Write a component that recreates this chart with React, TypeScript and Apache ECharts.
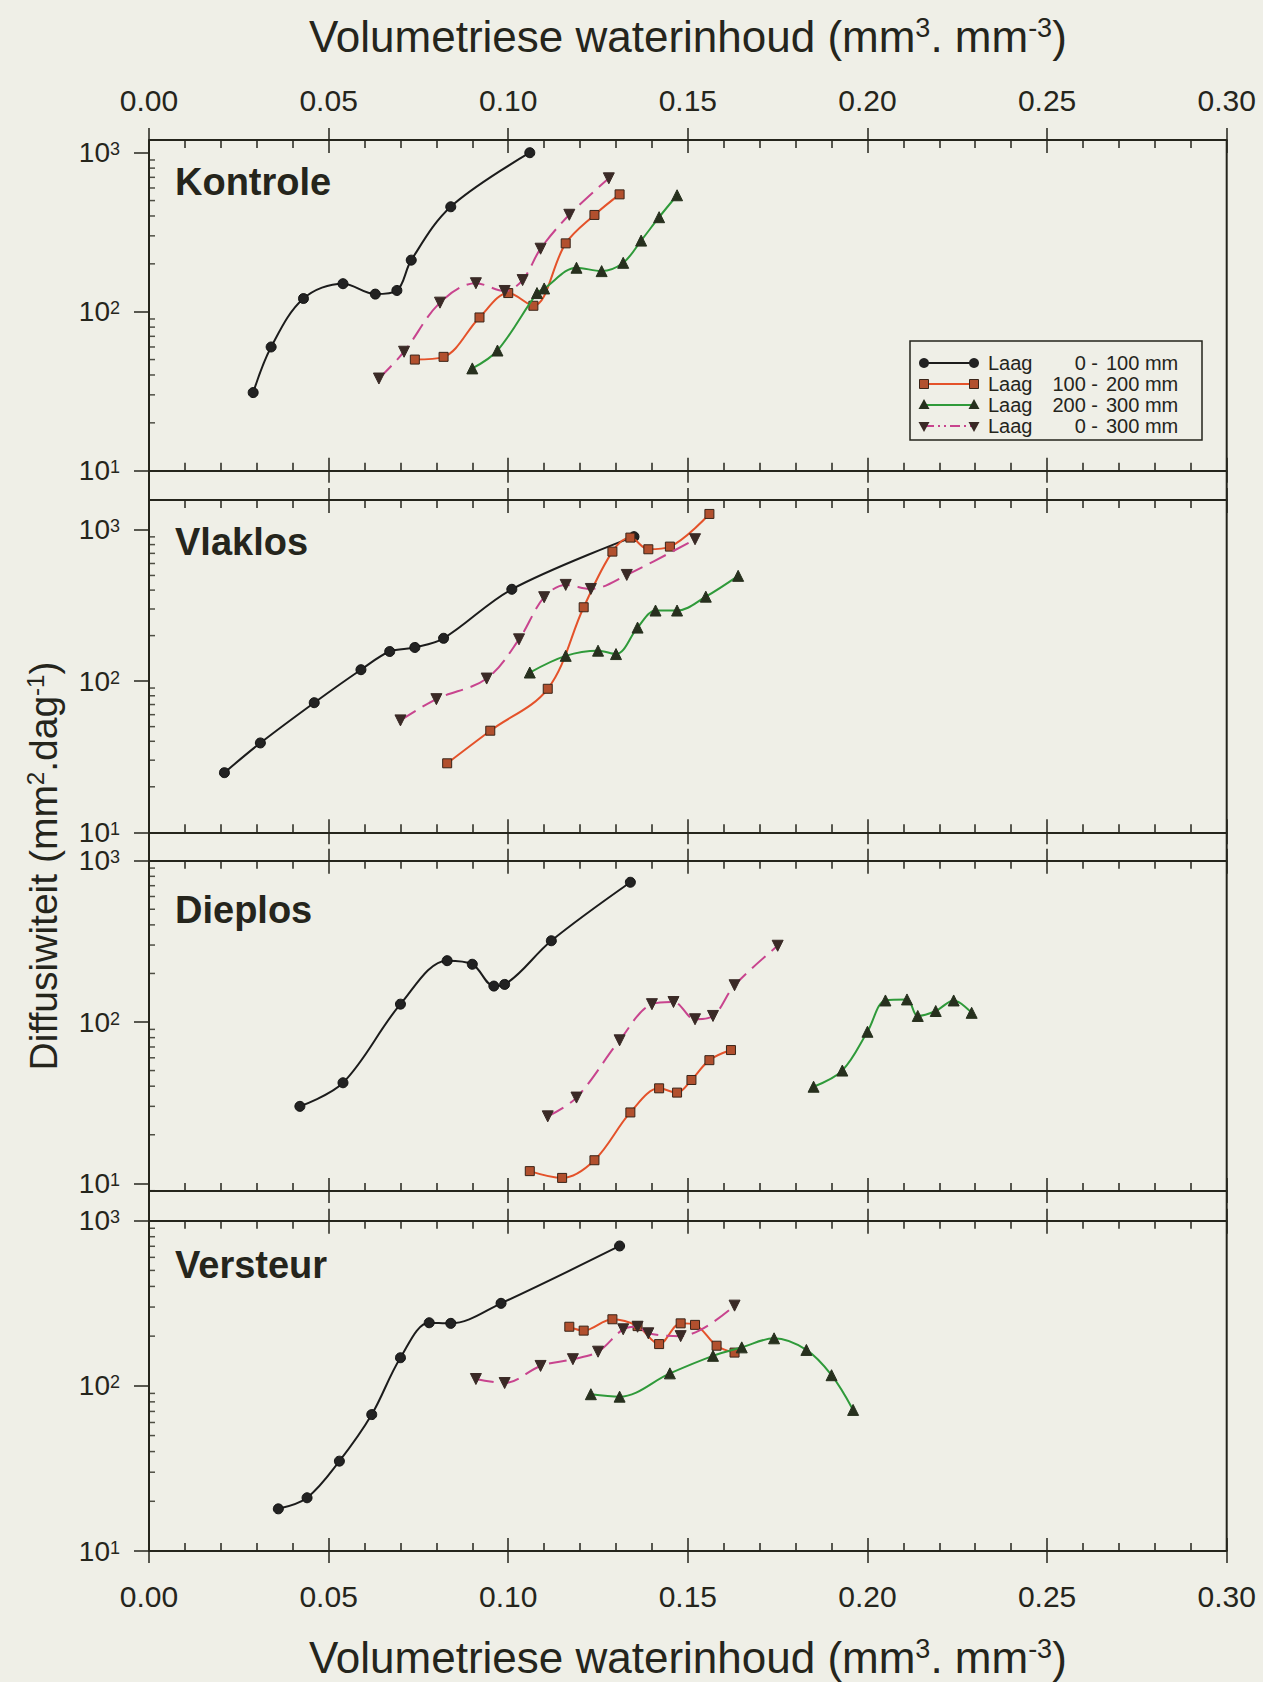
import React, { useEffect, useRef } from 'react';
import * as echarts from 'echarts';

// ---------- data (x: volumetric water content, y: diffusivity) ----------
const panelNames = ['Kontrole', 'Vlaklos', 'Dieplos', 'Versteur'];
const layerPrefix = 'Laag';
const layerFrom = ['0 -', '100 -', '200 -', '0 -'];
const layerTo = ['100 mm', '200 mm', '300 mm', '300 mm'];

const kontrole0_100 = [[0.029, 31], [0.034, 60], [0.043, 121], [0.054, 150], [0.063, 129], [0.069, 136], [0.073, 211], [0.084, 457], [0.106, 1000]];
const kontrole100_200 = [[0.074, 50], [0.082, 52], [0.092, 92], [0.100, 131], [0.107, 109], [0.116, 269], [0.124, 406], [0.131, 547]];
const kontrole200_300 = [[0.090, 44], [0.097, 57], [0.108, 131], [0.110, 140], [0.119, 189], [0.126, 180], [0.132, 203], [0.137, 280], [0.142, 393], [0.147, 540]];
const kontrole0_300 = [[0.064, 38], [0.071, 56], [0.081, 114], [0.091, 151], [0.099, 135], [0.104, 158], [0.109, 249], [0.117, 407], [0.128, 690]];

const vlaklos0_100 = [[0.021, 24.8], [0.031, 39], [0.046, 72], [0.059, 119], [0.067, 157], [0.074, 167], [0.082, 192], [0.101, 405], [0.135, 903]];
const vlaklos100_200 = [[0.083, 28.6], [0.095, 47], [0.111, 89], [0.121, 308], [0.129, 719], [0.134, 890], [0.139, 745], [0.145, 776], [0.156, 1276]];
const vlaklos200_300 = [[0.106, 114], [0.116, 147], [0.125, 159], [0.130, 151], [0.136, 226], [0.141, 293], [0.147, 293], [0.155, 362], [0.164, 497]];
const vlaklos0_300 = [[0.070, 55], [0.080, 76], [0.094, 104], [0.103, 189], [0.110, 359], [0.116, 433], [0.123, 407], [0.133, 504], [0.152, 868]];

const dieplos0_100 = [[0.042, 30], [0.054, 42], [0.070, 129], [0.083, 240], [0.090, 228], [0.096, 167], [0.099, 171], [0.112, 319], [0.134, 735]];
const dieplos100_200 = [[0.106, 11.9], [0.115, 10.8], [0.124, 13.9], [0.134, 27.5], [0.142, 38.8], [0.147, 36.5], [0.151, 43.7], [0.156, 58], [0.162, 67]];
const dieplos200_300 = [[0.185, 39.7], [0.193, 50], [0.200, 87], [0.205, 136], [0.211, 138], [0.214, 109], [0.219, 117], [0.224, 136], [0.229, 114]];
const dieplos0_300 = [[0.111, 26], [0.119, 34], [0.131, 77], [0.140, 129], [0.146, 133], [0.152, 104], [0.157, 109], [0.163, 169], [0.175, 297]];

const versteur0_100 = [[0.036, 18], [0.044, 21], [0.053, 35], [0.062, 67], [0.070, 148], [0.078, 241], [0.084, 239], [0.098, 316], [0.131, 703]];
const versteur100_200 = [[0.117, 228], [0.121, 216], [0.129, 253], [0.136, 230], [0.142, 179], [0.148, 239], [0.152, 234], [0.158, 175], [0.163, 159]];
const versteur200_300 = [[0.123, 89], [0.131, 86], [0.145, 119], [0.157, 152], [0.165, 171], [0.174, 194], [0.183, 165], [0.190, 116], [0.196, 71.5]];
const versteur0_300 = [[0.091, 110], [0.099, 104], [0.109, 132], [0.118, 145], [0.125, 161], [0.132, 220], [0.136, 228], [0.139, 208], [0.148, 200], [0.163, 306]];

const panelData = [
  [kontrole0_100, kontrole100_200, kontrole200_300, kontrole0_300],
  [vlaklos0_100, vlaklos100_200, vlaklos200_300, vlaklos0_300],
  [dieplos0_100, dieplos100_200, dieplos200_300, dieplos0_300],
  [versteur0_100, versteur100_200, versteur200_300, versteur0_300],
];

const yMin = [10, 10, 8.96, 10];
const yMax = [1202, 1578, 1000, 1000];
const yMajorTicks = [10, 100, 1000];
const yMinorTicks = [2, 3, 4, 5, 6, 7, 8, 9, 20, 30, 40, 50, 60, 70, 80, 90, 200, 300, 400, 500, 600, 700, 800, 900];

// ---------- layout / style ----------
const W = 1263;
const H = 1682;
const LEFT = 149;
const RIGHT = 1226.7;
const panelTop = [140, 500, 860.7, 1220.7];
const panelBottom = [470.7, 832.3, 1191, 1551];
const labelY = [182, 542, 910, 1265];

const INK = '#25251c';
const BG = '#efefe7';
const NARROW = "'Liberation Sans Narrow', 'Arial Narrow', 'Liberation Sans', Arial, sans-serif";
const SANS = "'Liberation Sans', Arial, sans-serif";

const seriesStyle = [
  { color: '#1c1c1c', symbol: 'circle', size: 10, rotate: 0, fill: '#222', border: '#111', dash: 'solid' as any },
  { color: '#e4522a', symbol: 'rect', size: 9, rotate: 0, fill: '#b2502e', border: '#3a2418', dash: 'solid' as any },
  { color: '#2f9a3a', symbol: 'triangle', size: 11, rotate: 0, fill: '#27301e', border: '#27301e', dash: 'solid' as any },
  { color: '#c8448e', symbol: 'triangle', size: 11, rotate: 180, fill: '#3a2a26', border: '#3a2a26', dash: [18, 8] as any },
];

function App() {
  const ref = useRef<HTMLDivElement>(null);

  useEffect(() => {
    document.body.style.margin = '0';
    document.body.style.background = BG;
    const chart = echarts.init(ref.current!, null, { renderer: 'svg' });

    const grids: any[] = [];
    const xAxes: any[] = [];
    const yAxes: any[] = [];
    const series: any[] = [];

    const titleRich = {
      a: { fontSize: 44, fontFamily: SANS, color: INK },
      s: { fontSize: 27, fontFamily: SANS, color: INK, verticalAlign: 'top' },
    };
    const titleText = '{a|Volumetriese waterinhoud (mm}{s|3}{a|. mm}{s|-3}{a|)}';

    for (let p = 0; p < 4; p++) {
      grids.push({ left: LEFT, top: panelTop[p], width: RIGHT - LEFT, height: panelBottom[p] - panelTop[p], containLabel: false });
      const base = {
        gridIndex: p, type: 'value', min: 0, max: 0.3, interval: 0.05,
        splitLine: { show: false },
      };
      const tickLine = { color: INK, width: 1.5 };
      // bottom, inside ticks + frame line
      xAxes.push({
        ...base, position: 'bottom',
        axisLine: { show: true, onZero: false, lineStyle: { color: INK, width: 2 } },
        axisTick: { show: true, inside: true, length: 13, lineStyle: tickLine },
        minorTick: { show: true, splitNumber: 5, length: 8, lineStyle: tickLine },
        axisLabel: {
          show: p === 3, margin: 30, fontSize: 30, fontFamily: NARROW, color: INK,
          formatter: (v: number) => v.toFixed(2),
        },
        name: p === 3 ? titleText : '', nameLocation: 'middle', nameGap: 84,
        nameTextStyle: { rich: titleRich },
      });
      // bottom, outside major ticks
      xAxes.push({
        ...base, position: 'bottom',
        axisLine: { show: false, onZero: false },
        axisTick: { show: true, inside: false, length: 12, lineStyle: tickLine },
        axisLabel: { show: false },
      });
      // top, inside ticks + frame line
      xAxes.push({
        ...base, position: 'top',
        axisLine: { show: true, onZero: false, lineStyle: { color: INK, width: 2 } },
        axisTick: { show: true, inside: true, length: 13, lineStyle: tickLine },
        minorTick: { show: true, splitNumber: 5, length: 8, lineStyle: tickLine },
        axisLabel: {
          show: p === 0, margin: 25, fontSize: 30, fontFamily: NARROW, color: INK,
          formatter: (v: number) => v.toFixed(2),
        },
        name: p === 0 ? titleText : '', nameLocation: 'middle', nameGap: 82,
        nameTextStyle: { rich: titleRich },
      });
      // top, outside major ticks
      xAxes.push({
        ...base, position: 'top',
        axisLine: { show: false, onZero: false },
        axisTick: { show: true, inside: false, length: 12, lineStyle: tickLine },
        axisLabel: { show: false },
      });

      yAxes.push({
        gridIndex: p, type: 'log', logBase: 10, min: yMin[p], max: yMax[p],
        axisLine: { show: false, onZero: false },
        axisTick: { show: true, inside: false, length: 15, lineStyle: tickLine, customValues: yMajorTicks },
        minorTick: { show: false },
        splitLine: { show: false },
        axisLabel: {
          show: true, margin: 29, customValues: yMajorTicks,
          formatter: (v: number) => {
            const e = Math.log10(v);
            if (Math.abs(e - Math.round(e)) > 1e-6) return '';
            return '{b|10}{s|' + Math.round(e) + '}';
          },
          rich: {
            b: { fontSize: 28, lineHeight: 25, fontFamily: SANS, color: INK },
            s: { fontSize: 18, lineHeight: 16, fontFamily: SANS, color: INK, verticalAlign: 'top' },
          },
        },
      });

      const data = panelData[p];
      for (let s = 0; s < 4; s++) {
        const st = seriesStyle[s];
        series.push({
          type: 'line', name: layerFrom[s] + ' ' + layerTo[s],
          xAxisIndex: p * 4, yAxisIndex: p,
          data: data[s], smooth: 0.35,
          symbol: st.symbol, symbolSize: st.size, symbolRotate: st.rotate,
          showAllSymbol: true,
          lineStyle: { color: st.color, width: 2, type: st.dash },
          itemStyle: { color: st.fill, borderColor: st.border, borderWidth: 1 },
          clip: false, z: 3 + s,
        });
      }
      // minor log ticks on the left axis (drawn at x = 0)
      series.push({
        type: 'scatter', xAxisIndex: p * 4, yAxisIndex: p,
        data: yMinorTicks.filter((v) => v >= yMin[p] && v <= yMax[p]).map((v) => [0, v]),
        symbol: 'rect', symbolSize: [6, 1.5], symbolOffset: [3, 0],
        itemStyle: { color: INK }, silent: true, clip: false, z: 2,
      });
    }

    const graphic: any[] = [
      { type: 'line', shape: { x1: LEFT, y1: panelTop[0], x2: LEFT, y2: panelBottom[3] }, style: { stroke: INK, lineWidth: 2 }, z: 10 },
      { type: 'line', shape: { x1: RIGHT, y1: panelTop[0], x2: RIGHT, y2: panelBottom[3] }, style: { stroke: INK, lineWidth: 2 }, z: 10 },
      {
        type: 'text', x: 43, y: 866, rotation: Math.PI / 2,
        style: {
          text: '{a|Diffusiwiteit (mm}{s|2}{a|.dag}{s|-1}{a|)}',
          rich: {
            a: { fontSize: 39, fontFamily: SANS, fill: INK },
            s: { fontSize: 24, fontFamily: SANS, fill: INK, verticalAlign: 'top' },
          },
          align: 'center', verticalAlign: 'middle', fill: INK,
        },
      },
    ];
    for (let p = 0; p < 4; p++) {
      graphic.push({
        type: 'text', x: 175, y: labelY[p],
        style: { text: panelNames[p], fontSize: 38, fontWeight: 'bold', fontFamily: SANS, fill: INK, align: 'left', verticalAlign: 'middle' },
      });
    }
    // legend box
    const lgX = 910, lgY = 341, lgW = 292, lgH = 99;
    const rowY = [363, 384, 405, 426];
    graphic.push({ type: 'rect', shape: { x: lgX, y: lgY, width: lgW, height: lgH }, style: { stroke: INK, lineWidth: 1.5, fill: BG }, z: 20 });
    for (let s = 0; s < 4; s++) {
      const st = seriesStyle[s];
      const y = rowY[s];
      graphic.push({
        type: 'line', shape: { x1: 924, y1: y, x2: 974, y2: y },
        style: { stroke: st.color, lineWidth: 2, lineDash: s === 3 ? [10, 4, 2, 4, 2, 4] : null }, z: 21,
      });
      for (const cx of [924, 974]) {
        let el: any;
        if (s === 0) el = { type: 'circle', shape: { cx, cy: y, r: 5 }, style: { fill: st.fill } };
        else if (s === 1) el = { type: 'rect', shape: { x: cx - 4.5, y: y - 4.5, width: 9, height: 9 }, style: { fill: st.fill, stroke: st.border, lineWidth: 1 } };
        else if (s === 2) el = { type: 'polygon', shape: { points: [[cx, y - 6], [cx - 5.5, y + 4], [cx + 5.5, y + 4]] }, style: { fill: st.fill } };
        else el = { type: 'polygon', shape: { points: [[cx, y + 6], [cx - 5.5, y - 4], [cx + 5.5, y - 4]] }, style: { fill: st.fill } };
        el.z = 22;
        graphic.push(el);
      }
      const lgText = { fontSize: 20, lineHeight: 19, fontFamily: SANS, fill: INK, verticalAlign: 'middle' };
      graphic.push({ type: 'text', x: 988, y, style: { ...lgText, text: layerPrefix, align: 'left' }, z: 22 });
      graphic.push({ type: 'text', x: 1098, y, style: { ...lgText, text: layerFrom[s], align: 'right' }, z: 22 });
      graphic.push({ type: 'text', x: 1106, y, style: { ...lgText, text: layerTo[s], align: 'left' }, z: 22 });
    }

    chart.setOption({
      animation: false,
      backgroundColor: BG,
      textStyle: { fontFamily: SANS, color: INK },
      grid: grids,
      xAxis: xAxes,
      yAxis: yAxes,
      series,
      graphic,
    });
    return () => chart.dispose();
  }, []);

  return <div ref={ref} style={{ position: 'absolute', left: 0, top: 0, width: W, height: H }} />;
}

export default App;
